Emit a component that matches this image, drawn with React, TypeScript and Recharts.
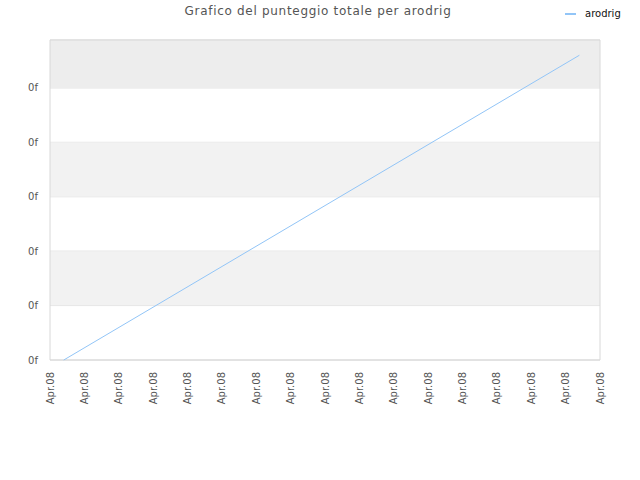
import React from 'react'
import {
  LineChart, Line, XAxis, YAxis, CartesianGrid, ReferenceArea,
} from 'recharts'

// time position (in tick steps) and total score of arodrig
const xValues = [0.4, 15.4]
const scores = [0, 5.6]

const xTicks = [0, 1, 2, 3, 4, 5, 6, 7, 8, 9, 10, 11, 12, 13, 14, 15, 16]
const yTicks = [0, 1, 2, 3, 4, 5]
const yMax = 5.88
const xLabel = 'Apr.08'
const yLabel = '0f'
const seriesName = 'arodrig'

// shaded bands between gridlines
const bands = [
  { from: 1, to: 2, fill: '#f2f2f2' },
  { from: 3, to: 4, fill: '#f2f2f2' },
  { from: 5, to: yMax, fill: '#ededed' },
]

const data = xValues.map((x, i) => ({ x, score: scores[i] }))

const LINE_COLOR = '#92c5f7'

function XTick({ x, y }: any) {
  return (
    <text
      x={x}
      y={y}
      transform={`rotate(-90, ${x}, ${y})`}
      textAnchor="end"
      dy="0.35em"
      fontSize={10}
      fill="#555"
      fontFamily="DejaVu Sans"
    >
      {xLabel}
    </text>
  )
}

export default function App() {
  return (
    <div style={{ position: 'absolute', left: 0, top: 0, width: 640, height: 480, background: '#fff' }}>
      <div
        style={{
          position: 'absolute', top: 4, left: 0, width: 636, textAlign: 'center',
          fontFamily: 'DejaVu Sans', fontSize: 12, color: '#555', letterSpacing: 0.7,
        }}
      >
        Grafico del punteggio totale per arodrig
      </div>
      <div
        style={{
          position: 'absolute', top: 8, left: 565, display: 'flex', alignItems: 'center',
          fontFamily: 'DejaVu Sans', fontSize: 10, color: '#111',
        }}
      >
        <span style={{ width: 11, height: 2, background: LINE_COLOR, marginRight: 9 }} />
        <span>{seriesName}</span>
      </div>
      <LineChart width={640} height={480} data={data} margin={{ top: 40, right: 40, left: 0, bottom: 0 }}>
        {bands.map(b => (
          <ReferenceArea key={b.from} y1={b.from} y2={b.to} x1={0} x2={16} fill={b.fill} fillOpacity={1} stroke="none" />
        ))}
        <CartesianGrid vertical={false} stroke="#dcdcdc" strokeWidth={1} />
        <ReferenceArea x1={0} x2={16} y1={0} y2={yMax} fill="none" stroke="#d8d8d8" strokeWidth={1} />
        <XAxis
          dataKey="x"
          type="number"
          domain={[0, 16]}
          ticks={xTicks}
          interval={0}
          height={120}
          axisLine={false}
          tickLine={false}
          tickMargin={6}
          tick={<XTick />}
        />
        <YAxis
          type="number"
          domain={[0, yMax]}
          ticks={yTicks}
          width={50}
          axisLine={false}
          tickLine={false}
          tickMargin={6}
          tickFormatter={() => yLabel}
          tick={{ fontSize: 10, fill: '#555', fontFamily: 'DejaVu Sans' }}
        />
        <Line
          dataKey="score"
          name={seriesName}
          type="linear"
          stroke={LINE_COLOR}
          strokeWidth={1}
          dot={false}
          isAnimationActive={false}
        />
      </LineChart>
    </div>
  )
}
